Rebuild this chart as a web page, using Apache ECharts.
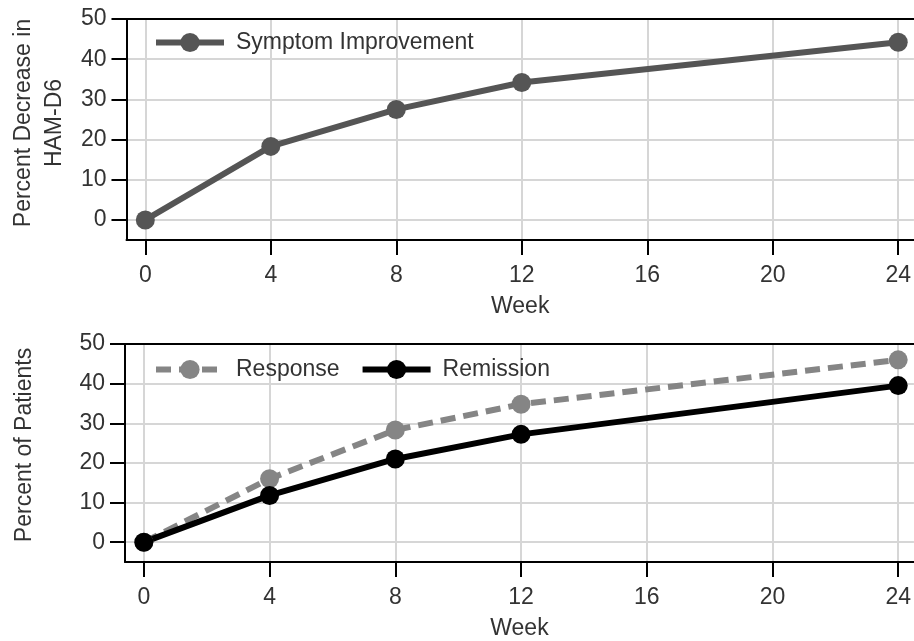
<!DOCTYPE html>
<html>
<head>
<meta charset="utf-8">
<script src="https://cdn.jsdelivr.net/npm/echarts@6/dist/echarts.min.js"></script>
<style>
html,body{margin:0;padding:0;background:#fff;}
#chart{width:914px;height:641px;}
</style>
</head>
<body>
<div id="chart"></div>
<script>
const weeks = [0, 4, 8, 12, 24];
const symptomImprovement = [0, 18.3, 27.5, 34.2, 44.2];
const response = [0, 16, 28.3, 34.8, 46];
const remission = [0, 11.8, 21, 27.2, 39.5];
const xTickValues = [0, 4, 8, 12, 16, 20, 24];
const yTickValues = [0, 10, 20, 30, 40, 50];

const FONT = 'Liberation Sans, Arial, sans-serif';
const FS = 23;
const TXT = '#333';

function pairs(vals) { return weeks.map((w, i) => [w, vals[i]]); }

const gridLines = {
  silent: true,
  symbol: 'none',
  label: { show: false },
  emphasis: { disabled: true },
  animation: false,
  z: 1,
  lineStyle: { color: '#d6d6d6', width: 2, type: 'solid' },
  data: xTickValues.map(v => ({ xAxis: v })).concat(yTickValues.slice(0, -1).map(v => ({ yAxis: v })))
};

function xAxisBottom(gi, nameGap) {
  return {
    type: 'value', gridIndex: gi, min: -0.6, max: 24.5, position: 'bottom', z: 3,
    name: 'Week', nameLocation: 'middle', nameGap: nameGap,
    nameTextStyle: { fontFamily: FONT, fontSize: FS, color: TXT },
    axisLine: { show: true, onZero: false, lineStyle: { color: '#000', width: 2 } },
    axisTick: { show: true, customValues: xTickValues, length: 15, lineStyle: { color: '#000', width: 2 } },
    axisLabel: { customValues: xTickValues, margin: 24, fontFamily: FONT, fontSize: FS, color: TXT },
    splitLine: { show: false }
  };
}
function xAxisTop(gi) {
  return {
    type: 'value', gridIndex: gi, min: -0.6, max: 24.5, position: 'top', z: 3,
    axisLine: { show: true, onZero: false, lineStyle: { color: '#000', width: 2 } },
    axisTick: { show: false }, axisLabel: { show: false }, splitLine: { show: false }
  };
}
function yAxis(gi, name, nameGap, lineHeight, pad) {
  return {
    type: 'value', gridIndex: gi, min: -5, max: 50, z: 3,
    name: name, nameLocation: 'middle', nameGap: nameGap,
    nameTextStyle: { fontFamily: FONT, fontSize: FS, color: TXT, lineHeight: lineHeight, padding: [0, 0, 0, pad] },
    axisLine: { show: true, onZero: false, lineStyle: { color: '#000', width: 2 } },
    axisTick: { show: true, customValues: yTickValues, length: 15, lineStyle: { color: '#000', width: 2 } },
    axisLabel: { customValues: yTickValues, margin: 20, fontFamily: FONT, fontSize: FS, color: TXT },
    splitLine: { show: false }
  };
}

const chart = echarts.init(document.getElementById('chart'), null, { renderer: 'canvas' });
chart.setOption({
  animation: false,
  backgroundColor: '#fff',
  grid: [
    { left: 125, right: 0, top: 19, height: 221 },
    { left: 125, right: 0, top: 344, height: 221 }
  ],
  legend: [
    {
      data: ['Symptom Improvement'], left: 148, top: 26, itemWidth: 68, itemHeight: 24,
      lineStyle: { width: 6 },
      textStyle: { fontFamily: FONT, fontSize: FS, color: TXT, padding: [0, 0, 0, 7] }
    },
    {
      data: ['Response', 'Remission'], left: 148, top: 353, itemWidth: 68, itemHeight: 24, itemGap: 20,
      lineStyle: { width: 6 },
      textStyle: { fontFamily: FONT, fontSize: FS, color: TXT, padding: [0, 0, 0, 7] }
    }
  ],
  xAxis: [xAxisBottom(0, 55), xAxisTop(0), xAxisBottom(1, 55), xAxisTop(1)],
  yAxis: [
    yAxis(0, 'Percent Decrease in\nHAM-D6', 52, 31, 13),
    yAxis(1, 'Percent of Patients', 89, 23, 16)
  ],
  series: [
    {
      name: 'Symptom Improvement', type: 'line', xAxisIndex: 0, yAxisIndex: 0,
      data: pairs(symptomImprovement), symbol: 'circle', symbolSize: 19,
      lineStyle: { color: '#555555', width: 6 }, itemStyle: { color: '#555555' },
      markLine: gridLines
    },
    {
      name: 'Response', type: 'line', xAxisIndex: 2, yAxisIndex: 1,
      data: pairs(response), symbol: 'circle', symbolSize: 19,
      lineStyle: { color: '#858585', width: 6, type: [15, 8] }, itemStyle: { color: '#858585' },
      markLine: gridLines
    },
    {
      name: 'Remission', type: 'line', xAxisIndex: 2, yAxisIndex: 1,
      data: pairs(remission), symbol: 'circle', symbolSize: 19,
      lineStyle: { color: '#000', width: 6 }, itemStyle: { color: '#000' }
    }
  ]
});
</script>
</body>
</html>
